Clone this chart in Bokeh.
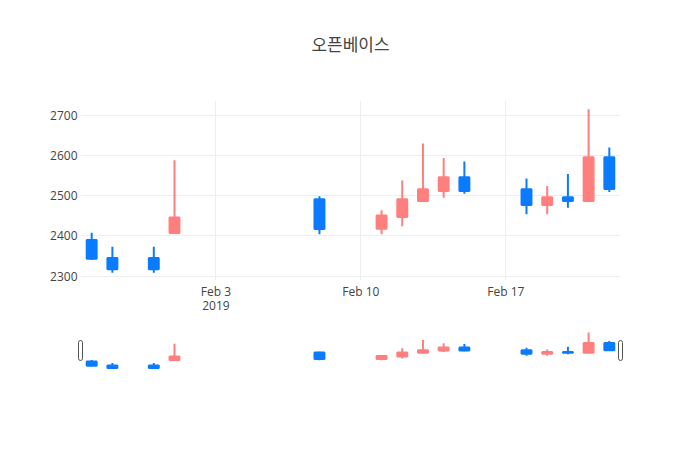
import pandas as pd
from bokeh.plotting import figure
from bokeh.models import Range1d, FixedTicker, ColumnDataSource, Title
from bokeh.layouts import column, row
from bokeh.embed import file_html
from bokeh.resources import INLINE

# ---- data ----
dates = ["2019-01-28", "2019-01-29", "2019-01-31", "2019-02-01", "2019-02-08",
         "2019-02-11", "2019-02-12", "2019-02-13", "2019-02-14", "2019-02-15",
         "2019-02-18", "2019-02-19", "2019-02-20", "2019-02-21", "2019-02-22"]
opens = [2390, 2345, 2345, 2407, 2491, 2418, 2447, 2487, 2512, 2546, 2516, 2477, 2496, 2487, 2596]
highs = [2408, 2373, 2373, 2588, 2499, 2464, 2538, 2630, 2594, 2585, 2543, 2524, 2554, 2715, 2620]
lows = [2340, 2308, 2308, 2406, 2404, 2404, 2424, 2487, 2495, 2505, 2454, 2454, 2470, 2486, 2509]
closes = [2343, 2317, 2317, 2446, 2417, 2451, 2491, 2516, 2546, 2512, 2477, 2496, 2487, 2596, 2517]

title_text = "오픈베이스"
x_tick_dates = ["2019-02-03", "2019-02-10", "2019-02-17"]
x_tick_labels = ["Feb 3\n2019", "Feb 10", "Feb 17"]
y_ticks = [2300, 2400, 2500, 2600, 2700]

UP = "#FF7F7F"
DOWN = "#0A7BFF"
DAY = 86400000.0
FONT = "Open Sans"
TXT = "#444444"

xs = [pd.Timestamp(d).value / 1e6 for d in dates]
colors = [UP if c >= o else DOWN for o, c in zip(opens, closes)]
src = ColumnDataSource(dict(
    x=xs, open=opens, high=highs, low=lows, close=closes,
    top=[max(o, c) for o, c in zip(opens, closes)],
    bottom=[min(o, c) for o, c in zip(opens, closes)],
    color=colors,
))

x0 = min(xs) - 0.54 * DAY
x1 = max(xs) + 0.54 * DAY
y0, y1 = 2289, 2737

p = figure(width=684, height=330, x_axis_type="datetime",
           x_range=Range1d(x0, x1), y_range=Range1d(y0, y1),
           output_backend="svg", toolbar_location=None,
           min_border_left=80, min_border_right=64,
           min_border_top=100, min_border_bottom=50)
p.title.text = title_text
p.title.align = "center"
p.title.text_font = "Noto Sans CJK KR"
p.title.text_font_size = "17px"
p.title.text_font_style = "normal"
p.title.text_color = TXT
p.title.standoff = 20
# invisible spacer between title and frame
p.add_layout(Title(text=" ", text_font_size="1px", standoff=32), "above")
p.outline_line_color = None

p.segment(x0="x", y0="low", x1="x", y1="high", source=src,
          line_color="color", line_width=2)
p.vbar(x="x", top="top", bottom="bottom", width=0.48 * DAY, source=src,
       fill_color="color", line_color="color", line_width=2)

tick_ms = [pd.Timestamp(d).value / 1e6 for d in x_tick_dates]
p.xaxis.ticker = FixedTicker(ticks=tick_ms)
p.xaxis.major_label_overrides = {t: l for t, l in zip(tick_ms, x_tick_labels)}
p.yaxis.ticker = FixedTicker(ticks=y_ticks)
for ax in (p.xaxis, p.yaxis):
    ax.axis_line_color = None
    ax.major_tick_line_color = None
    ax.minor_tick_line_color = None
    ax.major_tick_out = 0
    ax.major_tick_in = 0
    ax.minor_tick_out = 0
    ax.minor_tick_in = 0
    ax.major_label_text_font = FONT
    ax.major_label_text_font_size = "12px"
    ax.major_label_text_color = TXT
p.xaxis.major_label_standoff = 2
p.xaxis.major_label_text_line_height = 0.85
p.yaxis.major_label_standoff = 3
p.xgrid.grid_line_color = "#eeeeee"
p.ygrid.grid_line_color = "#eeeeee"
p.xgrid.ticker = FixedTicker(ticks=tick_ms)
p.ygrid.ticker = FixedTicker(ticks=y_ticks)

# ---- range slider ----
pxms = (x1 - x0) / 540.0
ext = 6 * pxms
s = figure(width=684, height=50, x_range=Range1d(x0 - ext, x1 + ext),
           y_range=Range1d(y0, y1), output_backend="svg", toolbar_location=None,
           x_axis_location=None, y_axis_location=None,
           min_border_left=74, min_border_right=58,
           min_border_top=0, min_border_bottom=10)
s.outline_line_color = None
s.grid.visible = False
s.segment(x0="x", y0="low", x1="x", y1="high", source=src,
          line_color="color", line_width=2)
s.vbar(x="x", top="top", bottom="bottom", width=0.48 * DAY, source=src,
       fill_color="color", line_color="color", line_width=2)
s.rect(x=[x0, x1], y=[(y0 + y1) / 2] * 2, width=4, height=20,
       width_units="screen", height_units="screen",
       fill_color="white", line_color="#555555", line_width=1, border_radius=2)

layout = column(p, row(s))
open("out.html", "w").write(file_html(layout, INLINE))
